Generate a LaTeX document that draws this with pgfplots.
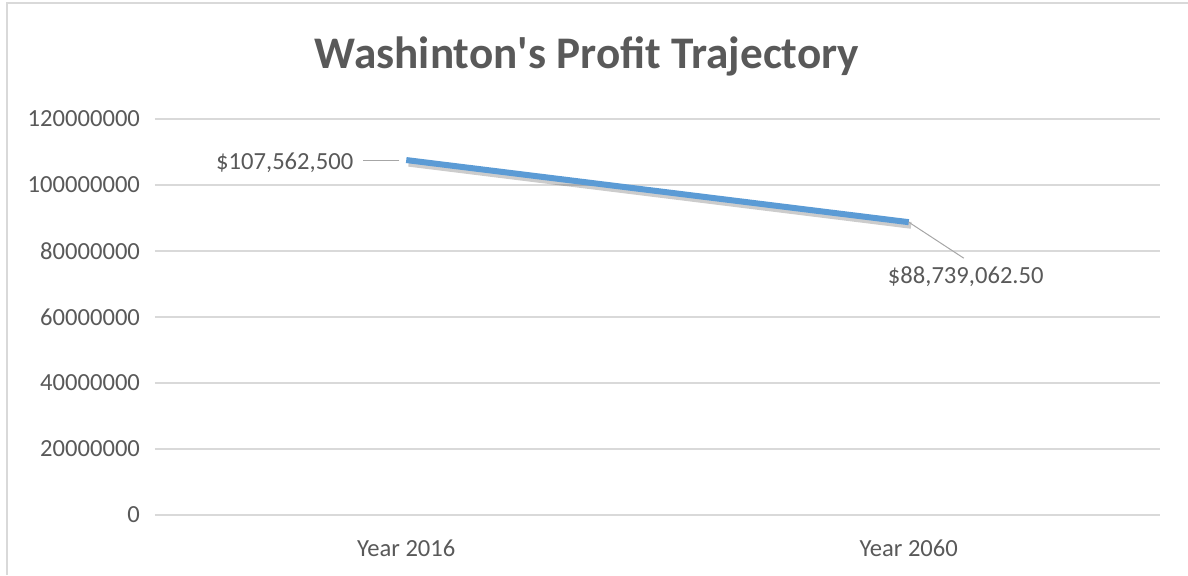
\documentclass[border=0pt]{standalone}
\usepackage{pgfplots}
\pgfplotsset{compat=1.18}
\usepackage{fontspec}
\setmainfont{Carlito}
\definecolor{txt}{HTML}{595959}
\definecolor{gridc}{HTML}{D9D9D9}
\definecolor{ser}{HTML}{5B9BD5}
\definecolor{lead}{HTML}{A6A6A6}
\definecolor{framec}{HTML}{D9D9D9}
\begin{document}
\begin{tikzpicture}
\useasboundingbox (0,0) rectangle (594pt,287.5pt);
\draw[framec, line width=0.8pt] (3.5pt,0) -- (3.5pt,286pt) -- (595pt,286pt);
\node[txt, font=\fontsize{22.6}{26}\selectfont\bfseries] at (293.5pt,259.5pt) {Washinton\textquotesingle s Profit Trajectory};
\begin{axis}[
  at={(77.5pt,30pt)}, anchor=south west,
  scale only axis,
  width=502.5pt, height=198pt,
  xmin=-0.5, xmax=1.5,
  ymin=0, ymax=120000000,
  ytick={0,20000000,40000000,60000000,80000000,100000000,120000000},
  scaled y ticks=false,
  xtick={0,1}, xticklabels={Year 2016, Year 2060},
  axis line style={draw=none},
  major tick length=0pt,
  ymajorgrids, xmajorgrids=false,
  major grid style={gridc, line width=0.75pt},
  tick label style={txt, font=\fontsize{12.3}{14}\selectfont},
  /pgf/number format/fixed,
  /pgf/number format/1000 sep={},
  /pgf/number format/assume math mode=true,
  yticklabel style={xshift=-4pt},
  xticklabel style={yshift=-9pt},
  clip=false,
]
\addplot[black, opacity=0.2, line width=3.4pt, transform canvas={shift={(1.2pt,-1.6pt)}}] coordinates {(0,107562500) (1,88739062.5)};
\addplot[ser, line width=3pt] coordinates {(0,107562500) (1,88739062.5)};
\draw[lead, line width=0.5pt] ([xshift=-3.5pt]axis cs:0,107562500) -- ([xshift=-21.5pt]axis cs:0,107562500);
\node[txt, anchor=east, font=\fontsize{12.3}{14}\selectfont] at ([xshift=-23pt,yshift=-1.5pt]axis cs:0,107562500) {\$107,562,500};
\draw[lead, line width=0.5pt] (axis cs:1,88739062.5) -- ([xshift=27.5pt,yshift=-18pt]axis cs:1,88739062.5);
\node[txt, font=\fontsize{12.3}{14}\selectfont] at ([xshift=28.5pt,yshift=-27.5pt]axis cs:1,88739062.5) {\$88,739,062.50};
\end{axis}
\end{tikzpicture}
\end{document}
